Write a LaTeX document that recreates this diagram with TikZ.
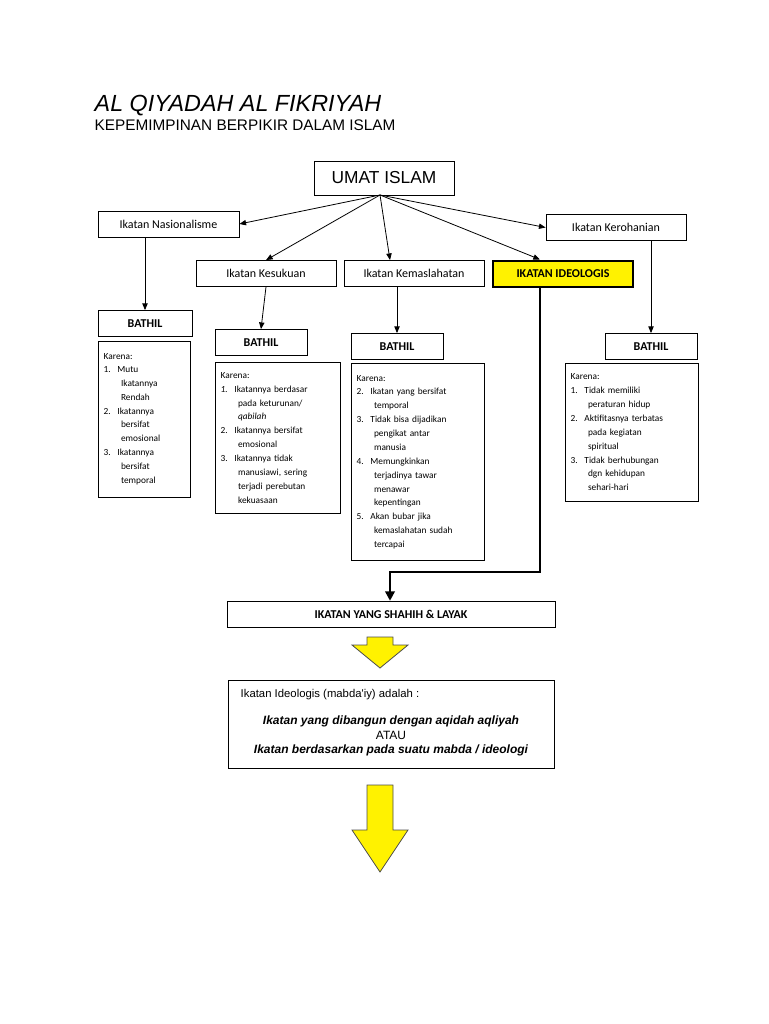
\documentclass[tikz,border=0pt]{standalone}
\usepackage{fontspec}
\setmainfont{Carlito}
\newfontfamily\arialf{Liberation Sans}
\usetikzlibrary{arrows.meta}
\begin{document}
\begin{tikzpicture}[x=0.75pt,y=-0.75pt,
  bx/.style={draw,line width=0.6pt,minimum height=19.5pt,inner sep=2pt,font=\fontsize{9}{10}\selectfont},
  tx/.style={draw,line width=0.6pt,anchor=north west,align=left,inner sep=4pt,font=\fontsize{7}{10.4}\selectfont},
  ar/.style={-{Triangle[length=5pt,width=4pt]},line width=0.6pt},
  yarr/.style={draw=black!70,fill=yellow,line width=0.6pt}]
\useasboundingbox (0,0) rectangle (768,1024);
\node[anchor=base west,font=\arialf\itshape\fontsize{17.5}{20}\selectfont] (t1) at (90,112) {AL QIYADAH AL FIKRIYAH};
\node[anchor=base west,font=\arialf\fontsize{11.5}{13}\selectfont] (t2) at (90,130) {KEPEMIMPINAN BERPIKIR DALAM ISLAM};
\node[bx,minimum width=105pt,minimum height=25.5pt,font=\arialf\fontsize{13}{15}\selectfont] (u) at (384,178) {UMAT ISLAM};
\node[bx,minimum width=105.75pt] (n) at (168.5,224) {Ikatan Nasionalisme};
\node[bx,minimum width=105pt] (r) at (616,227.5) {Ikatan Kerohanian};
\node[bx,minimum width=105pt] (s) at (266,273.5) {Ikatan Kesukuan};
\node[bx,minimum width=105pt] (m) at (414,273.5) {Ikatan Kemaslahatan};
\node[bx,minimum width=105pt,fill=yellow,line width=1.5pt,font=\bfseries\fontsize{9}{10}\selectfont] (i) at (563,273.5) {IKATAN IDEOLOGIS};
\foreach \n/\x/\y/\w in {b1/145/323.5/70.5,b2/261/342.5/69,b3/397/346.5/69,b4/651/346.5/69}
  \node[bx,minimum width=\w pt,font=\bfseries\fontsize{9}{10}\selectfont] (\n) at (\x,\y) {BATHIL};
\node[tx,text width=61pt,minimum height=117pt] (k1) at (98,341) {Karena:\\[-1pt]1.\hspace{5pt}Mutu\\\hspace{13pt}Ikatannya\\\hspace{13pt}Rendah\\2.\hspace{5pt}Ikatannya\\\hspace{13pt}bersifat\\\hspace{13pt}emosional\\3.\hspace{5pt}Ikatannya\\\hspace{13pt}bersifat\\\hspace{13pt}temporal};
\node[tx,text width=86pt,minimum height=113pt] (k2) at (215,362) {Karena:\\\textit{1.}\hspace{5pt}Ikatannya berdasar\\\hspace{13pt}pada keturunan/\\\hspace{13pt}\textit{qabilah}\\2.\hspace{5pt}Ikatannya bersifat\\\hspace{13pt}emosional\\3.\hspace{5pt}Ikatannya tidak\\\hspace{13pt}manusiawi, sering\\\hspace{13pt}terjadi perebutan\\\hspace{13pt}kekuasaan};
\node[tx,text width=92pt,minimum height=148pt] (k3) at (351,363) {Karena:\\2.\hspace{5pt}Ikatan yang bersifat\\\hspace{13pt}temporal\\3.\hspace{5pt}Tidak bisa dijadikan\\\hspace{13pt}pengikat antar\\\hspace{13pt}manusia\\4.\hspace{5pt}Memungkinkan\\\hspace{13pt}terjadinya tawar\\\hspace{13pt}menawar\\\hspace{13pt}kepentingan\\5.\hspace{5pt}Akan bubar jika\\\hspace{13pt}kemaslahatan sudah\\\hspace{13pt}tercapai};
\node[tx,text width=92pt,minimum height=103.5pt] (k4) at (565,363) {Karena:\\1.\hspace{5pt}Tidak memiliki\\\hspace{13pt}peraturan hidup\\2.\hspace{5pt}Aktifitasnya terbatas\\\hspace{13pt}pada kegiatan\\\hspace{13pt}spiritual\\3.\hspace{5pt}Tidak berhubungan\\\hspace{13pt}dgn kehidupan\\\hspace{13pt}sehari-hari};
\coordinate (uo) at (380,195);
\draw[ar] (uo) -- (n.east);
\draw[ar] (uo) -- (s.north);
\draw[ar] (uo) -- (m.north -| 390,0);
\draw[ar] (uo) -- (i.north -| 540,0);
\draw[ar] (uo) -- (r.west);
\draw[ar] (n.south -| b1.north) -- (b1.north);
\draw[ar] (s.south) -- (b2.north);
\draw[ar] (m.south -| b3.north) -- (b3.north);
\draw[ar] (r.south -| b4.north) -- (b4.north);
\node[bx,minimum width=246pt,minimum height=20pt,font=\bfseries\fontsize{9}{10}\selectfont] (y) at (391,614.5) {IKATAN YANG SHAHIH \& LAYAK};
\draw[-{Triangle[length=7pt,width=7pt]},line width=2pt] (i.south -| 540,0) |- (390,572) -- (y.north -| 390,0);
\node[draw,line width=0.6pt,minimum width=245pt,minimum height=66.5pt,inner sep=0pt] (d) at (391.5,724.5) {};
\node[anchor=base west,font=\arialf\fontsize{8.5}{10}\selectfont] (d1) at (236,697) {Ikatan Ideologis (mabda'iy) adalah :};
\node[font=\arialf\bfseries\itshape\fontsize{9}{10}\selectfont] (d2) at (391,721) {Ikatan yang dibangun dengan aqidah aqliyah};
\node[font=\arialf\fontsize{9}{10}\selectfont] (d3) at (391,735) {ATAU};
\node[font=\arialf\bfseries\itshape\fontsize{9}{10}\selectfont] (d4) at (391,750) {Ikatan berdasarkan pada suatu mabda / ideologi};
\draw[yarr] (367,637) -- (393,637) -- (393,645) -- (408,645) -- (380,668) -- (352,645) -- (367,645) -- cycle;
\draw[yarr] (367,785) -- (393,785) -- (393,830) -- (408,830) -- (380,872) -- (352,830) -- (367,830) -- cycle;
\end{tikzpicture}
\end{document}
